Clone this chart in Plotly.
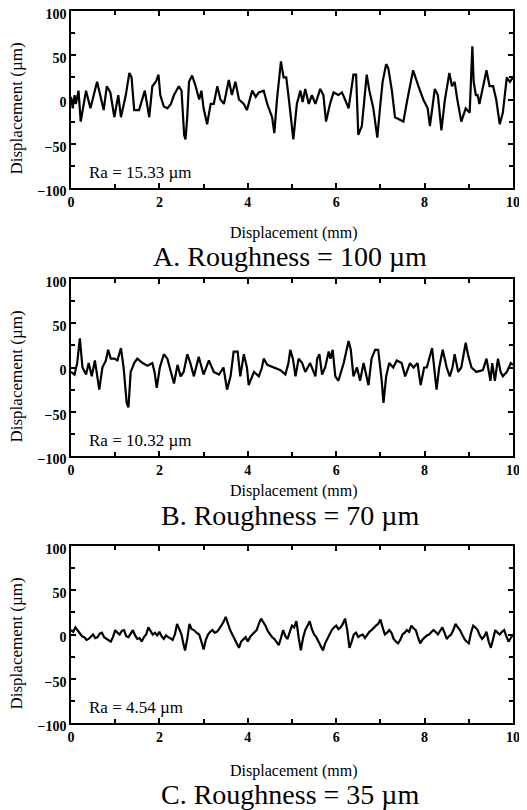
import plotly.graph_objects as go

# ---- data ----
xa = [0.0,0.04,0.08,0.11,0.17,0.22,0.34,0.44,0.59,0.68,0.74,0.81,0.89,0.98,1.07,1.13,1.24,1.32,1.37,1.43,1.54,1.67,1.77,1.84,1.92,1.98,2.02,2.1,2.18,2.26,2.33,2.44,2.5,2.56,2.59,2.63,2.67,2.74,2.82,2.9,2.95,3.0,3.08,3.16,3.23,3.31,3.38,3.46,3.57,3.64,3.72,3.8,3.91,3.98,4.1,4.18,4.25,4.36,4.44,4.55,4.6,4.66,4.75,4.81,4.87,4.93,5.0,5.03,5.11,5.19,5.24,5.3,5.38,5.45,5.53,5.64,5.71,5.77,5.86,5.94,6.05,6.13,6.2,6.28,6.39,6.45,6.5,6.58,6.69,6.75,6.84,6.93,6.99,7.05,7.13,7.18,7.26,7.33,7.41,7.52,7.61,7.74,7.86,7.97,8.07,8.12,8.2,8.23,8.3,8.38,8.46,8.53,8.56,8.62,8.68,8.74,8.83,8.93,9.02,9.08,9.11,9.16,9.2,9.24,9.4,9.47,9.55,9.62,9.7,9.77,9.86,9.93,10.0]
ya = [3,-10,5,-5,10,-25,10,-10,20,0,-12,15,8,-20,5,-20,5,30,25,-12,-12,10,-20,15,20,28,5,-8,-10,-5,5,15,10,-40,-45,-20,20,27,15,0,10,-10,-28,-5,-5,15,0,-5,22,5,20,0,-5,-12,10,3,8,10,-5,-20,-38,0,43,25,25,0,-30,-45,-5,10,-3,12,-5,5,-5,12,5,-25,-5,8,5,8,0,-10,28,28,-40,-30,28,10,-10,-43,-10,20,40,35,10,-20,-22,-25,0,33,15,0,-10,-30,0,12,5,-35,0,25,30,15,20,0,-25,-10,-15,60,20,5,5,-5,33,15,15,0,-28,-15,25,20,25]

xb = [0.0,0.08,0.14,0.2,0.26,0.34,0.4,0.47,0.54,0.64,0.71,0.79,0.84,0.9,0.98,1.05,1.13,1.19,1.26,1.3,1.35,1.43,1.5,1.62,1.73,1.84,1.89,1.94,2.01,2.1,2.18,2.26,2.33,2.41,2.48,2.55,2.63,2.7,2.78,2.89,3.0,3.12,3.23,3.35,3.45,3.53,3.61,3.68,3.77,3.83,3.91,3.98,4.02,4.14,4.25,4.32,4.36,4.44,4.59,4.74,4.85,4.92,4.96,5.02,5.08,5.15,5.23,5.3,5.41,5.53,5.57,5.62,5.68,5.75,5.83,5.87,5.92,5.98,6.05,6.17,6.28,6.33,6.39,6.47,6.54,6.62,6.73,6.8,6.88,6.95,7.03,7.07,7.13,7.2,7.29,7.37,7.48,7.56,7.67,7.75,7.84,7.91,7.99,8.05,8.17,8.21,8.27,8.33,8.41,8.5,8.57,8.63,8.68,8.76,8.83,8.93,8.98,9.06,9.17,9.32,9.4,9.49,9.53,9.59,9.66,9.72,9.77,9.86,9.95,10.0]
yb = [-5,-8,5,33,0,-8,5,-10,8,-25,0,8,20,10,10,8,22,0,-40,-45,-5,5,10,5,2,5,-5,-23,0,15,10,-5,-18,3,-10,-5,15,5,-10,12,-8,8,-5,-8,0,-25,-10,18,18,-10,15,0,-20,-5,-10,0,10,3,0,-3,-8,5,20,10,-10,10,5,-5,5,-10,10,15,-8,0,18,10,20,-10,-15,5,30,20,-10,0,-15,5,-20,10,20,20,-15,-40,-10,5,0,8,5,-10,5,0,5,-20,0,0,22,5,-25,0,20,0,-10,0,15,-5,0,28,15,0,-5,-3,10,-15,5,-15,10,-5,-10,-5,5,3]

xc = [0.0,0.05,0.1,0.15,0.2,0.25,0.3,0.35,0.4,0.45,0.5,0.55,0.6,0.65,0.7,0.75,0.8,0.85,0.9,0.95,1.0,1.05,1.1,1.15,1.2,1.25,1.3,1.35,1.4,1.45,1.5,1.55,1.6,1.65,1.7,1.75,1.8,1.85,1.9,1.95,2.0,2.05,2.1,2.15,2.2,2.25,2.3,2.35,2.4,2.45,2.5,2.54,2.58,2.63,2.68,2.73,2.78,2.84,2.9,2.95,3.0,3.05,3.1,3.15,3.2,3.25,3.3,3.35,3.4,3.45,3.5,3.55,3.6,3.65,3.7,3.75,3.8,3.85,3.9,3.95,4.0,4.05,4.1,4.15,4.2,4.25,4.3,4.35,4.4,4.45,4.5,4.55,4.6,4.65,4.7,4.75,4.8,4.85,4.9,4.95,5.0,5.05,5.1,5.15,5.2,5.25,5.3,5.35,5.4,5.45,5.5,5.55,5.6,5.65,5.7,5.75,5.8,5.85,5.9,5.95,6.0,6.05,6.1,6.15,6.2,6.25,6.3,6.35,6.4,6.45,6.5,6.55,6.6,6.65,6.7,6.75,6.8,6.85,6.9,6.95,7.0,7.05,7.1,7.15,7.2,7.25,7.3,7.35,7.4,7.45,7.5,7.55,7.6,7.65,7.7,7.75,7.8,7.85,7.9,7.95,8.0,8.05,8.1,8.15,8.2,8.25,8.3,8.35,8.4,8.45,8.5,8.55,8.6,8.65,8.7,8.75,8.8,8.85,8.9,8.95,9.0,9.05,9.1,9.15,9.2,9.25,9.3,9.35,9.4,9.45,9.5,9.55,9.6,9.65,9.7,9.75,9.8,9.85,9.9,9.95,10.0]
yc = [5,3,8,5,2,-2,-3,-6,-5,-2,0,-4,-3,1,2,-3,-5,-6,-8,-3,5,2,0,4,5,-2,-3,1,5,-1,-5,-4,-8,-3,0,8,4,0,2,-1,3,-2,-5,-1,-3,-5,-6,0,12,6,0,-10,-18,-5,12,6,5,2,0,-8,-17,-6,0,3,5,2,3,6,10,14,20,12,5,0,-5,-10,-15,-8,-5,-3,-8,-3,0,2,5,12,18,14,10,4,0,-3,-5,-8,-12,-4,5,-2,-5,3,10,8,15,-3,-18,-4,5,10,15,6,0,-3,-8,-12,-18,-10,-5,0,5,8,10,6,8,12,18,5,-15,-8,0,2,-3,-1,0,-4,0,3,5,8,10,12,17,8,0,2,5,2,-5,-8,-10,-6,0,2,5,3,10,7,5,-3,-10,-6,-3,-1,0,2,5,3,0,4,8,2,-5,-2,0,5,12,8,5,0,-5,-8,-10,2,10,8,5,-1,-5,-2,3,-8,-15,-5,5,2,0,3,5,-2,-8,-4,0,5,12]

ra_labels = ["Ra = 15.33 µm", "Ra = 10.32 µm", "Ra = 4.54 µm"]
subtitles = ["A. Roughness = 100 µm", "B. Roughness = 70 µm", "C. Roughness = 35 µm"]
xticks = [0, 2, 4, 6, 8, 10]
yticks = [-100, -50, 0, 50, 100]

series = [(xa, ya), (xb, yb), (xc, yc)]

# page has an 8px body margin: work in page pixels, convert to figure pixels
OFF = 8
W, H = 527 - OFF, 810 - OFF
x_left, x_right = 71 - OFF, 513 - OFF
panels_px = [(11, 188), (279, 456), (546, 723)]   # plot top, bottom (page px)
xtitle_px = [233, 491, 771]
subtitle_px = [256, 515, 794]

SERIF = "Liberation Serif"

def py(p):
    return 1 - (p - OFF) / H

def px(p):
    return (p - OFF) / W

fig = go.Figure()
annotations = []
for i, ((xs, ys), (top, bot)) in enumerate(zip(series, panels_px)):
    n = "" if i == 0 else str(i + 1)
    fig.add_trace(go.Scatter(x=xs, y=ys, mode="lines",
                             line=dict(color="black", width=2.2),
                             xaxis="x" + n, yaxis="y" + n, showlegend=False))
    axis_common = dict(showline=True, linecolor="black", linewidth=1.5,
                       mirror="ticks", ticks="inside", ticklen=5, tickwidth=1.5,
                       tickcolor="black", showgrid=False, zeroline=False,
                       automargin=False, ticklabeloverflow="allow",
                       tickfont=dict(family=SERIF, size=14, color="black", weight="bold"))
    fig.layout["xaxis" + n] = dict(domain=[x_left / W, x_right / W], anchor="y" + n,
                                   range=[0, 10], tickvals=xticks,
                                   minor=dict(ticks="inside", dtick=1, ticklen=4,
                                              tickwidth=1.5, tickcolor="black"),
                                   **axis_common)
    fig.layout["yaxis" + n] = dict(domain=[py(bot), py(top)], anchor="x" + n,
                                   range=[-100, 100], tickvals=yticks,
                                   ticklabelshift=3,
                                   minor=dict(ticks="inside", dtick=25, ticklen=4,
                                              tickwidth=1.5, tickcolor="black"),
                                   **axis_common)
    # Ra label
    annotations.append(dict(x=0.36, y=-82, xref="x" + n, yref="y" + n,
                            text=ra_labels[i], showarrow=False,
                            xanchor="left", yanchor="middle",
                            font=dict(family=SERIF, size=17, color="black")))
    # y-axis title
    annotations.append(dict(x=px(16), y=py((top + bot) / 2 + 9), xref="paper", yref="paper",
                            text="Displacement (µm)", textangle=-90, showarrow=False,
                            xanchor="center", yanchor="middle",
                            font=dict(family=SERIF, size=17, color="black")))
    # x-axis title
    annotations.append(dict(x=px(294), y=py(xtitle_px[i]), xref="paper", yref="paper",
                            text="Displacement (mm)", showarrow=False,
                            xanchor="center", yanchor="middle",
                            font=dict(family=SERIF, size=16, color="black")))
    # subtitle
    annotations.append(dict(x=px(290), y=py(subtitle_px[i]), xref="paper", yref="paper",
                            text=subtitles[i], showarrow=False,
                            xanchor="center", yanchor="middle",
                            font=dict(family=SERIF, size=28, color="black")))

fig.update_layout(width=W, height=H, margin=dict(l=0, r=0, t=0, b=0, autoexpand=False),
                  paper_bgcolor="white", plot_bgcolor="white",
                  annotations=annotations)
fig.write_html("out.html")
